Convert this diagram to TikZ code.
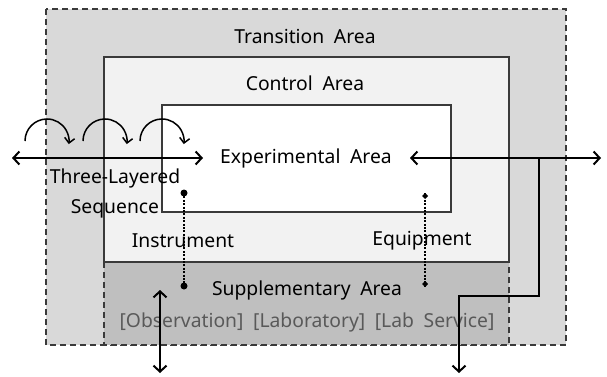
\documentclass[tikz,border=0pt]{standalone}
\usepackage{fontspec}
\setmainfont{Noto Sans}
\usetikzlibrary{arrows.meta}
\definecolor{transfill}{HTML}{D9D9D9}
\definecolor{ctrlfill}{HTML}{F2F2F2}
\definecolor{suppfill}{HTML}{BFBFBF}
\definecolor{edge}{HTML}{3A3A3A}
\definecolor{graytext}{HTML}{595959}
\begin{document}
\begin{tikzpicture}[x=1pt,y=-1pt,
  lbl/.style={font=\fontsize{19.3}{23}\selectfont, text=black, inner sep=0pt},
  glbl/.style={lbl, text=graytext},
  dashedge/.style={draw=edge, line width=1.1pt, dash pattern=on 6pt off 4pt},
  solidedge/.style={draw=edge, line width=1.5pt},
  arr/.style={line width=2pt, black, arrows={Straight Barb[length=6pt,width=13pt,line width=2pt]-Straight Barb[length=6pt,width=13pt,line width=2pt]}},
  arrone/.style={line width=2pt, black, -{Straight Barb[length=6pt,width=13pt,line width=2pt]}},
  curl/.style={line width=1.5pt, black, -{Straight Barb[length=5pt,width=10pt,line width=1.5pt]}},
  dotline/.style={line width=2.2pt, black, dash pattern=on 2pt off 1.4pt}
]
\useasboundingbox (0,0) rectangle (607,377);
% Transition area
\fill[transfill] (46,9) rectangle (566,345);
\draw[dashedge] (46,9) rectangle (566,345);
% Control area
\fill[ctrlfill] (104,57) rectangle (509,262);
\draw[solidedge] (104,57) rectangle (509,262);
% Experimental area
\fill[white] (162,105) rectangle (451,212);
\draw[solidedge] (162,105) rectangle (451,212);
% Supplementary area
\fill[suppfill] (104,262) rectangle (509,345);
\draw[dashedge] (104,262) -- (104,345) -- (509,345) -- (509,262);
\draw[solidedge] (104,262) -- (509,262);

% labels
\node[lbl] (trans) at (305,36) {Transition\hspace{0.5em}Area};
\node[lbl] (ctrl) at (305,83) {Control\hspace{0.5em}Area};
\node[lbl] (exp) at (306,158) {Experimental\hspace{0.5em}Area};
\node[lbl] (three) at (115,178) {Three-Layered};
\node[lbl] (seq) at (115,209) {Sequence};
\node[lbl] (instr) at (183,241) {Instrument};
\node[lbl] (equip) at (422,241) {Equipment};
\node[lbl] (supp) at (307,290) {Supplementary\hspace{0.5em}Area};
\node[glbl] (kinds) at (307,322) {[Observation]\hspace{0.5em}[Laboratory]\hspace{0.5em}[Lab\hspace{0.5em}Service]};

% coordinates
\coordinate (la) at (12,158);
\coordinate (lb) at (203,158);
\coordinate (ra) at (410,158);
\coordinate (rb) at (601,158);
\coordinate (rj) at (539,158);
\coordinate (rk) at (539,296);
\coordinate (rl) at (459,296);
\coordinate (rm) at (459,373);
\coordinate (va) at (160,290);
\coordinate (vb) at (160,373);
\coordinate (d1a) at (184,193);
\coordinate (d1b) at (184,286);
\coordinate (d2a) at (425,193);
\coordinate (d2b) at (425,287);

% arrows
\draw[arr] (la) -- (lb);
\draw[arr] (ra) -- (rb);
\draw[arrone] (rj) -- (rk) -- (rl) -- (rm);
\draw[arr] (va) -- (vb);

% curls
\foreach \cx/\nm in {47/c1,105/c2,162/c3}{
  \coordinate (\nm) at (\cx,141);
  \draw[curl] (\nm) ++(-22,0) arc[start angle=180, end angle=368, radius=22];
}

% dotted links
\draw[dotline] (d1a) -- (d1b);
\fill (d1a) circle (3.5pt);
\fill (d1b) circle (3.5pt);
\draw[dotline] (d2a) -- (d2b);
\fill (d2a) -- ++(3,3) -- ++(-3,3) -- ++(-3,-3) -- cycle;
\fill (d2b) -- ++(3,-3) -- ++(-3,-3) -- ++(-3,3) -- cycle;
\end{tikzpicture}
\end{document}
